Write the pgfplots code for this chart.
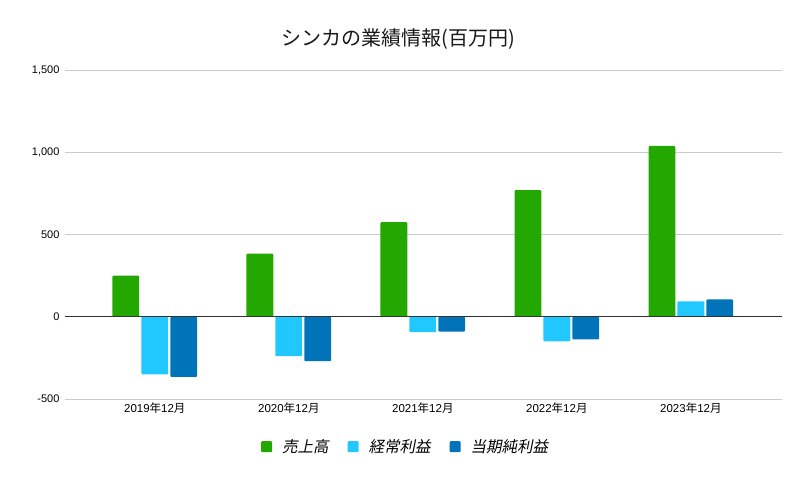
\documentclass[border=0pt]{standalone}
\usepackage{fontspec}
\usepackage{pgfplots}
\pgfplotsset{compat=1.18}
\setmainfont{Liberation Sans}
\newfontfamily\cjk{Noto Sans CJK JP}
\newfontfamily\cjki{Noto Sans CJK JP}[FakeSlant=0.2]
\definecolor{cgreen}{RGB}{34,168,0}
\definecolor{clight}{RGB}{32,200,255}
\definecolor{cdark}{RGB}{0,115,185}
\definecolor{cgrid}{RGB}{204,204,204}
\begin{document}
\begin{tikzpicture}[x=1pt,y=1pt]
\path[fill=white] (0,0) rectangle (806,479);
\node[font=\cjk\fontsize{20}{22}\selectfont, text=black!90] at (398,440) {シンカの業績情報(百万円)};
\begin{axis}[at={(65pt,80pt)}, anchor=south west,
  scale only axis, width=717pt, height=329pt,
  xmin=-0.67, xmax=4.68, ymin=-500, ymax=1500,
  ytick={-500,0,500,1000,1500},
  yticklabels={-500,0,500,{1,000},{1,500}},
  xtick={0,1,2,3,4},
  xticklabels={2019{\cjk 年}12{\cjk 月},2020{\cjk 年}12{\cjk 月},2021{\cjk 年}12{\cjk 月},2022{\cjk 年}12{\cjk 月},2023{\cjk 年}12{\cjk 月}},
  ticklabel style={font=\fontsize{11}{12}\selectfont},
  xticklabel style={font=\fontsize{11.5}{12}\selectfont},
  yticklabel style={xshift=-2pt},
  major tick length=0pt,
  axis line style={draw=none},
  ymajorgrids, grid style={cgrid, line width=0.8pt},
  ybar, bar width=0.2,
  legend style={at={(0.475,-0.145)}, anchor=center, draw=none, legend columns=3,
    font=\cjki\fontsize{15.5}{18}\selectfont, column sep=0pt,
    /tikz/every odd column/.style={column sep=8pt}},
  legend image code/.code={\fill[#1] (0pt,-5.5pt) rectangle (11pt,5.5pt);},
]
\addplot[fill=cgreen, draw=none, bar shift=-0.216, rounded corners=1pt] coordinates {(0,250) (1,384) (2,575) (3,770) (4,1038)};
\addplot[fill=clight, draw=none, bar shift=0, rounded corners=1pt] coordinates {(0,-350) (1,-240) (2,-94) (3,-149) (4,93)};
\addplot[fill=cdark, draw=none, bar shift=0.216, rounded corners=1pt] coordinates {(0,-366) (1,-270) (2,-90) (3,-138) (4,105)};
\legend{売上高\rule{17pt}{0pt},経常利益\rule{17pt}{0pt},当期純利益}
\draw[black!80, line width=0.9pt] (axis cs:-0.67,0) -- (axis cs:4.68,0);
\end{axis}
\end{tikzpicture}
\end{document}
